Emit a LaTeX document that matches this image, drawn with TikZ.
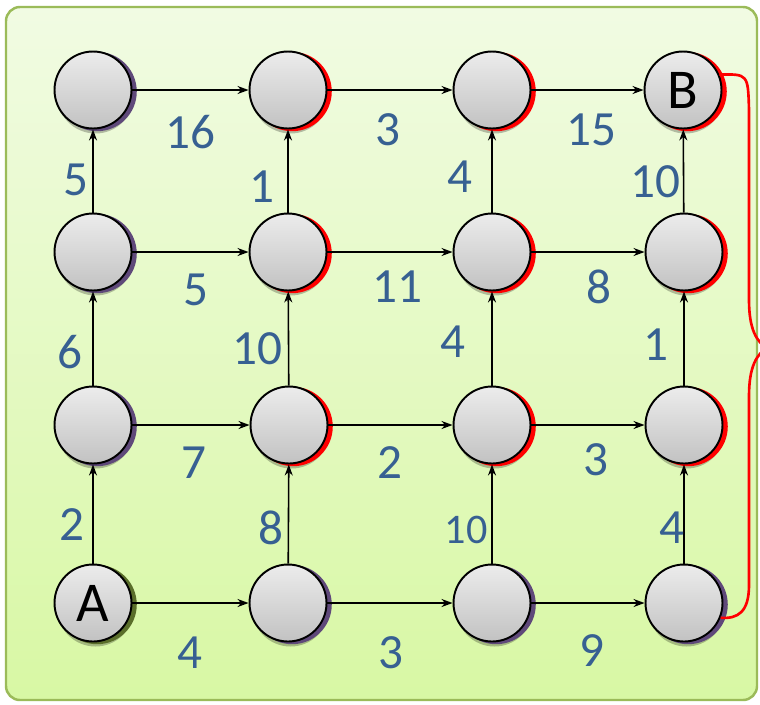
\documentclass[tikz,border=0pt]{standalone}
\usepackage{fontspec}
\setmainfont{Carlito}
\usetikzlibrary{arrows.meta,shadows}
\definecolor{wblue}{HTML}{376092}
\definecolor{purp}{HTML}{5F497A}
\definecolor{olive}{HTML}{5A6E2A}
\definecolor{framegreen}{HTML}{9BBB59}
\definecolor{bgtop}{HTML}{F1FBE3}
\definecolor{bgbot}{HTML}{D8F8A4}
\definecolor{nodetop}{HTML}{ECECEC}
\definecolor{nodebot}{HTML}{C2C2C2}
\begin{document}
\begin{tikzpicture}[x=0.02cm,y=-0.02cm,
    vertex/.style={circle,draw=black,line width=1.1pt,minimum size=1.54cm,inner sep=0pt,
        top color=nodetop,bottom color=nodebot,font=\fontsize{32}{34}\selectfont},
    arc/.style={line width=0.9pt,-{Stealth[length=0.22cm,width=0.16cm,inset=0.07cm]}},
    wlabel/.style={text=wblue,font=\fontsize{28}{30}\selectfont},
    brace/.style={red,line width=1.5pt}]
    \useasboundingbox (0,0) rectangle (760,704);
    \draw[framegreen,line width=1.4pt,rounded corners=0.28cm,top color=bgtop,bottom color=bgbot]
        (6,7) rectangle (757,700);
    % grid of vertices, v<column><row>, row 1 at the bottom
    \foreach \n/\x/\y/\s/\t in {
        v11/93/603/olive/A, v21/288/603/purp/{}, v31/492/603/purp/{}, v41/684/603/purp/{},
        v12/93/425/purp/{}, v22/289/425/red/{}, v32/492/425/red/{}, v42/684/425/red/{},
        v13/93/252/purp/{}, v23/288/252/red/{}, v33/492/252/red/{}, v43/684/252/red/{},
        v14/93/90/purp/{}, v24/288/90/red/{}, v34/492/90/red/{}, v44/683/90/red/B}
        \node[vertex,
            drop shadow={fill=black,opacity=0.25,shadow xshift=0.05cm,shadow yshift=-0.1cm},
            general shadow={fill=\s,shadow xshift=0.08cm,shadow yshift=-0.03cm,shadow scale=1.03}]
            (\n) at (\x,\y) {\t};
    % arcs: to the right and upwards
    \foreach \c/\d in {1/2,2/3,3/4}
        \foreach \r in {1,...,4}
            {\draw[arc] (v\c\r) -- (v\d\r);
            \draw[arc] (v\r\c) -- (v\r\d);}
    % weights
    \foreach \x/\y/\t [count=\k] in {
        190/653/4, 391/653/3, 592/651/9,
        194/463/7, 390/463/2, 596/460/3,
        196/290/5, 397/287/11, 599/287/8,
        190/132/16, 388/130/3, 591/130/15,
        72/525/2, 70/352/6, 76/180/5,
        271/528/8, 257/349/10, 262/187/1,
        453/342/4, 460/177/4,
        672/528/4, 656/345/1, 655/182/10}
        \node[wlabel] (w\k) at (\x,\y) {\t};
    \node[wlabel,font=\fontsize{24}{26}\selectfont] (w24) at (466,530) {10};
    % brace from B down to the bottom right vertex
    \coordinate (tip) at (767,348);
    \draw[brace] (v44.23) .. controls (748,74) .. (749,110) -- (749,300)
        .. controls (749,330) and (757,342) .. (tip)
        .. controls (757,354) and (749,366) .. (749,396) -- (749,585)
        .. controls (749,612) and (738,619) .. (v41.-22);
\end{tikzpicture}
\end{document}
